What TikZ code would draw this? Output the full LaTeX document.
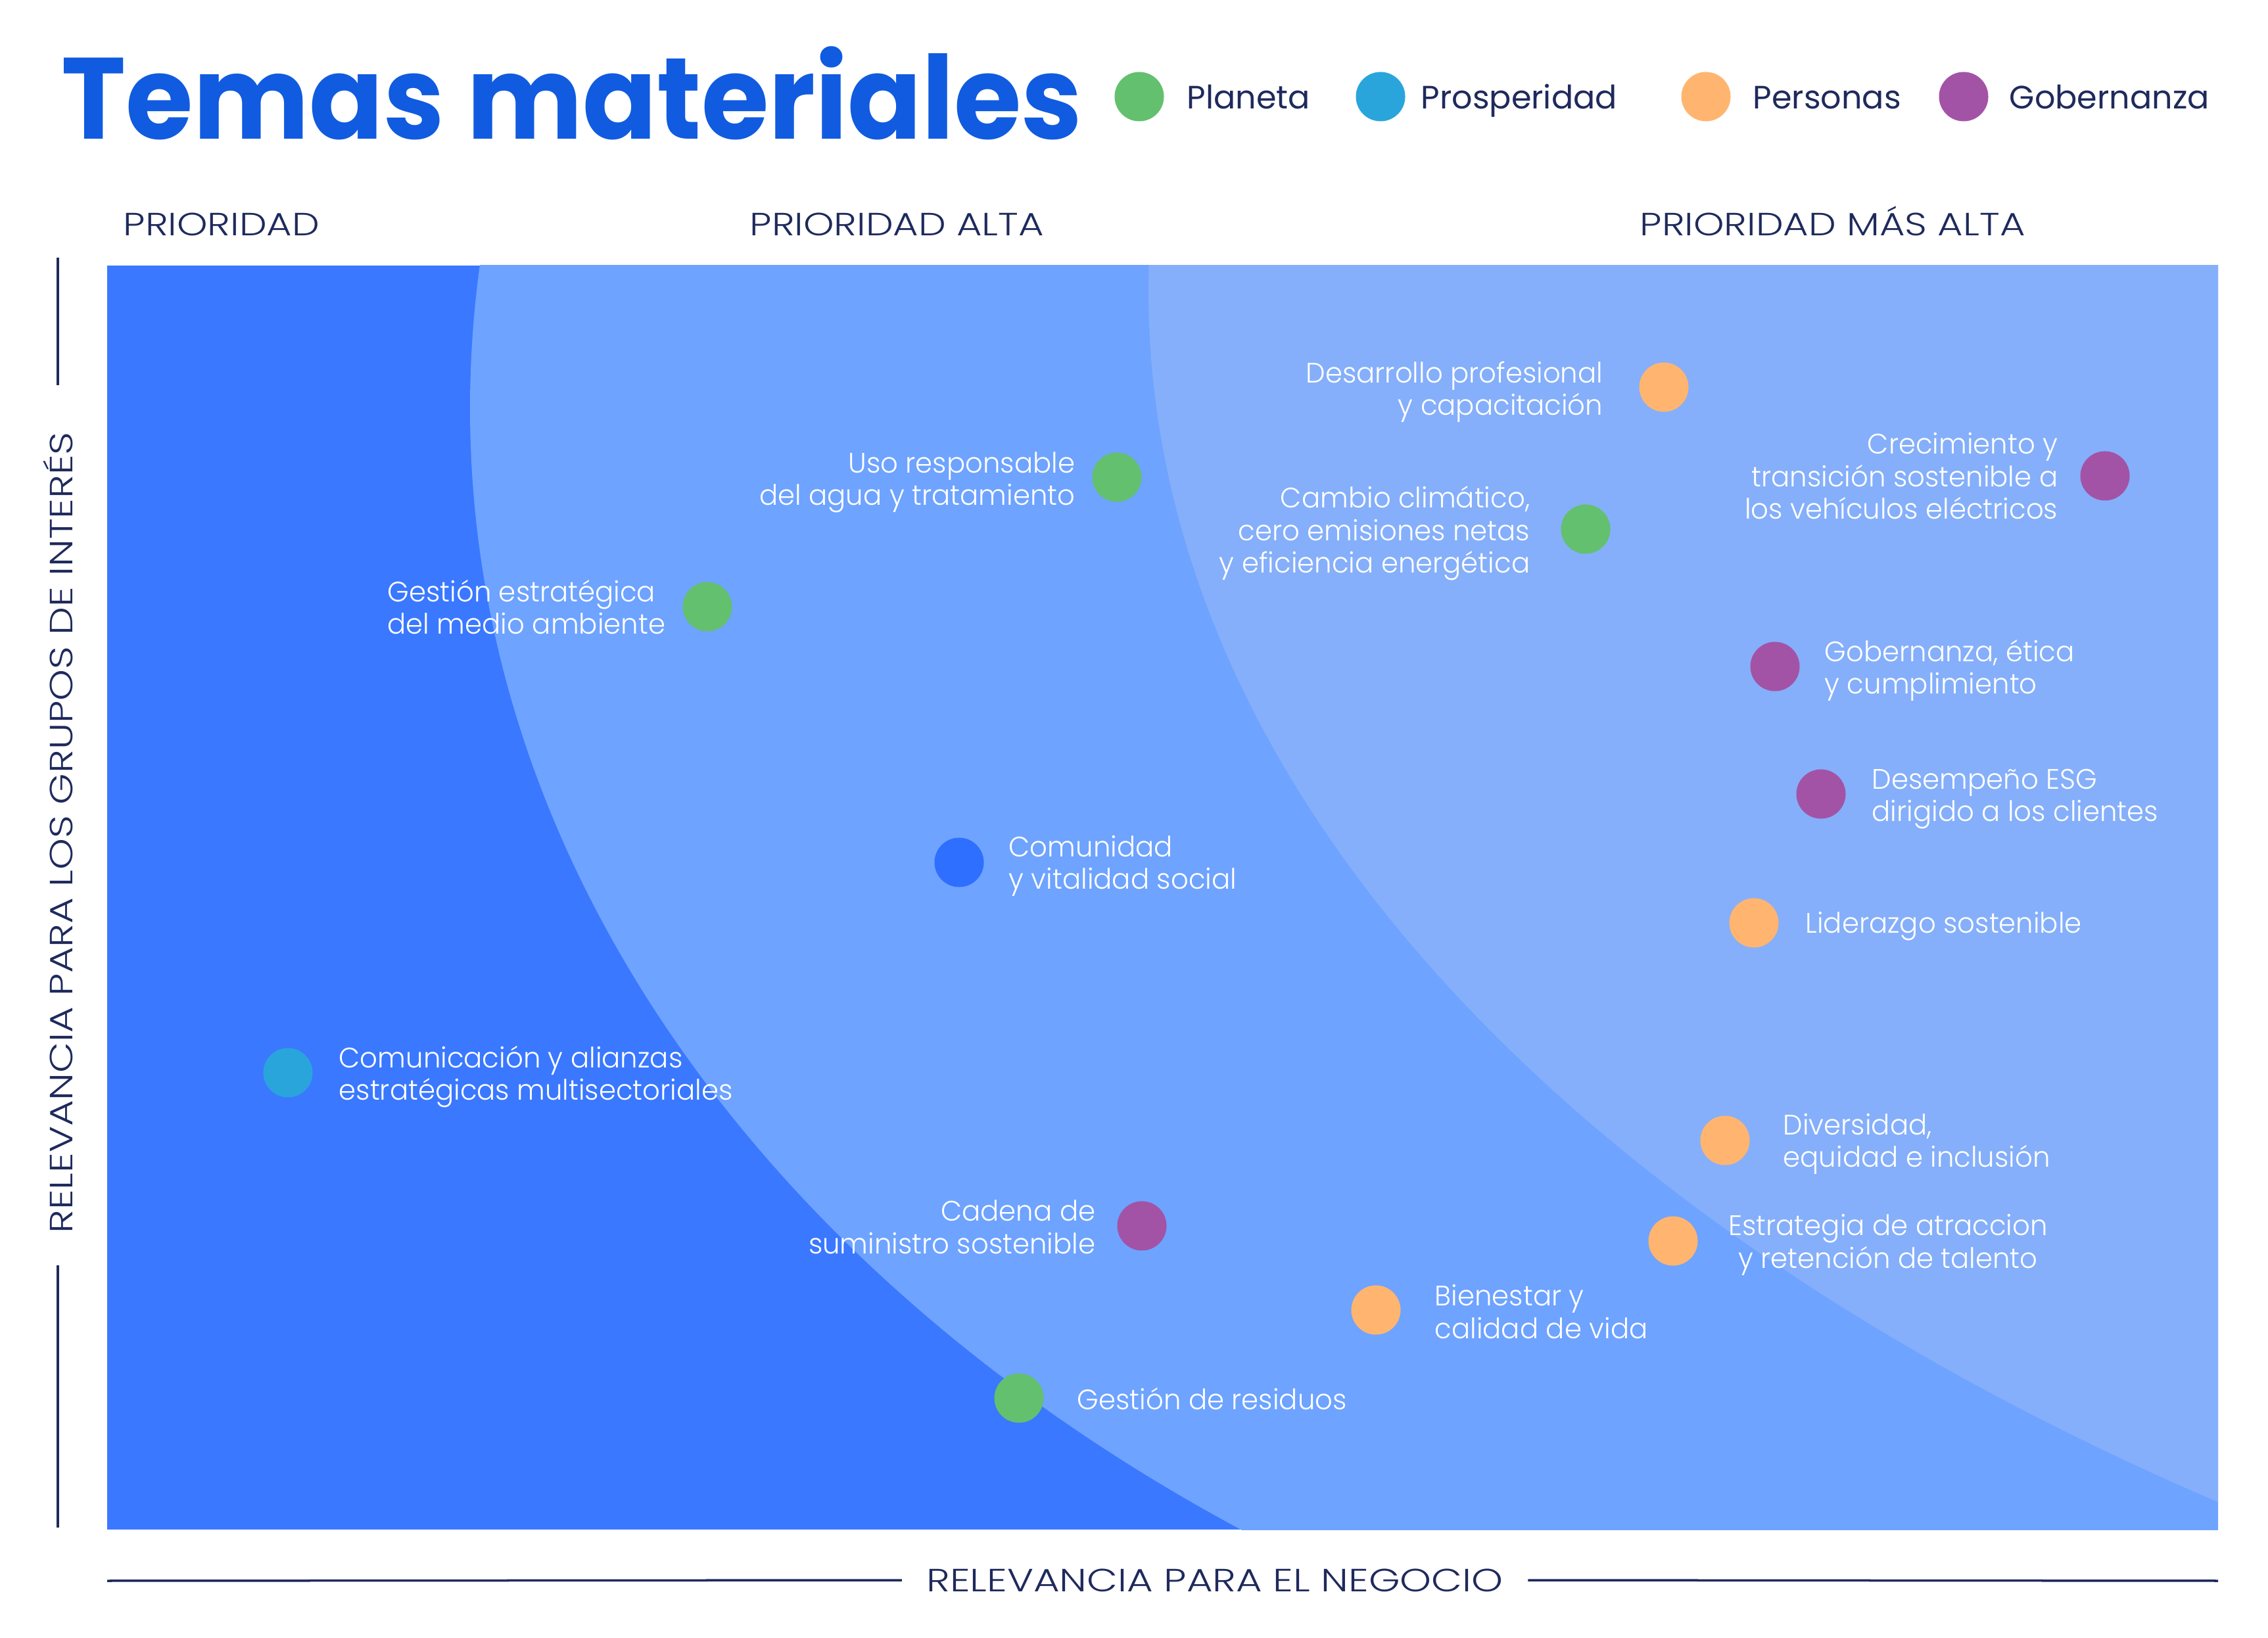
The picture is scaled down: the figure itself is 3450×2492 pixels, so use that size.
\documentclass[tikz,border=0pt]{standalone}
\usepackage{fontspec}
\setmainfont{Poppins}
\newfontfamily\titlefont[FakeStretch=0.945]{Poppins}
\newfontfamily\temafont[FakeStretch=0.975]{Poppins Light}
\newfontfamily\headfont[FakeStretch=1.21]{Poppins Light}
\newfontfamily\ejefont[FakeStretch=1.245]{Poppins Light}
\usetikzlibrary{positioning}
\definecolor{titleblue}{HTML}{105BE0}
\definecolor{navy}{HTML}{1F2A5C}
\definecolor{zonelow}{HTML}{3A78FF}
\definecolor{zonemid}{HTML}{6EA3FF}
\definecolor{zonehigh}{HTML}{85AFFA}
\definecolor{planeta}{HTML}{63C06E}
\definecolor{prosperidad}{HTML}{29A5DC}
\definecolor{personas}{HTML}{FFB570}
\definecolor{gobernanza}{HTML}{A353A6}
\definecolor{comunidad}{HTML}{2E6FFF}
\tikzset{
  dot/.style={circle,fill=#1,minimum size=0.75cm,inner sep=0pt},
  tema/.style={text=white,font=\temafont\fontsize{12.2}{14.1}\selectfont,inner sep=0pt},
  leyenda/.style={text=navy,font=\fontsize{14}{16}\selectfont,inner sep=0pt,anchor=base west},
  head/.style={text=navy,font=\headfont\fontsize{13.9}{16}\selectfont,inner sep=0pt,anchor=base west},
  ejetxt/.style={text=navy,font=\ejefont\fontsize{13.9}{16}\selectfont,inner sep=0pt},
  eje/.style={navy,line width=0.035cm}
}
\begin{document}
\begin{tikzpicture}[x=0.01cm,y=-0.01cm]
\useasboundingbox (0,0) rectangle (3450,2492);
\node[anchor=base west,inner sep=0pt,text=titleblue,font=\titlefont\fontsize{50}{50}\selectfont\bfseries] (titulo) at (93,212) {Temas materiales};
\node[dot=planeta] (lplaneta) at (1733,147) {};
\node[leyenda] (tplaneta) at (1805,166) {Planeta};
\node[dot=prosperidad] (lprosperidad) at (2100,147) {};
\node[leyenda] (tprosperidad) at (2161,166) {Prosperidad};
\node[dot=personas] (lpersonas) at (2595,147) {};
\node[leyenda] (tpersonas) at (2666,166) {Personas};
\node[dot=gobernanza] (lgobernanza) at (2987,147) {};
\node[leyenda] (tgobernanza) at (3056,166) {Gobernanza};
\node[head] (prio) at (187,359) {PRIORIDAD};
\node[head] (prioalta) at (1140,359) {PRIORIDAD ALTA};
\node[head] (priomax) at (2494,359) {PRIORIDAD MÁS ALTA};
\begin{scope}
\clip (163,404) rectangle (3374,2327);
\fill[zonelow] (163,404) rectangle (3374,2327);
\fill[zonemid] (3532,621) ellipse [x radius=2817,y radius=2101];
\fill[zonehigh] (5900,442) ellipse [x radius=4153,y radius=2322];
\end{scope}
\node[ejetxt,inner xsep=0.37cm] (negocio) at (1848,2404) {RELEVANCIA PARA EL NEGOCIO};
\coordinate (ejex0) at (163,2405);
\coordinate (ejex1) at (3374,2405);
\draw[eje] (ejex0) -- (negocio.west);
\draw[eje] (negocio.east) -- (ejex1);
\node[ejetxt,rotate=90] (grupos) at (88,1267) {RELEVANCIA PARA LOS GRUPOS DE INTERÉS};
\coordinate (ejey0) at (88,392);
\coordinate (ejey1) at (88,586);
\coordinate (ejey2) at (88,1925);
\coordinate (ejey3) at (88,2324);
\draw[eje] (ejey0) -- (ejey1);
\draw[eje] (ejey2) -- (ejey3);
\node[dot=personas] (desarrollo) at (2531,589) {};
\node[tema,anchor=base east,align=right] (tdesarrollo) at (2439,632) {Desarrollo profesional\\y capacitación};
\node[dot=planeta] (agua) at (1699,726) {};
\node[tema,anchor=base east,align=right] (tagua) at (1636,769) {Uso responsable\\del agua y tratamiento};
\node[dot=planeta] (clima) at (2412,805) {};
\node[tema,anchor=base east,align=right] (tclima) at (2328,872) {Cambio climático,\\cero emisiones netas\\y eficiencia energética};
\node[dot=gobernanza] (vehiculos) at (3202,724) {};
\node[tema,anchor=base east,align=right] (tvehiculos) at (3131,790) {Crecimiento y\\transición sostenible a\\los vehículos eléctricos};
\node[dot=planeta] (ambiente) at (1076,923) {};
\node[tema,anchor=base west,align=left] (tambiente) at (589,965) {Gestión estratégica\\del medio ambiente};
\node[dot=gobernanza] (etica) at (2700,1014) {};
\node[tema,anchor=base west,align=left] (tetica) at (2775,1056) {Gobernanza, ética\\y cumplimiento};
\node[dot=gobernanza] (esg) at (2770,1208) {};
\node[tema,anchor=base west,align=left] (tesg) at (2847,1250) {Desempeño ESG\\dirigido a los clientes};
\node[dot=comunidad] (social) at (1459,1312) {};
\node[tema,anchor=base west,align=left] (tsocial) at (1534,1353) {Comunidad\\y vitalidad social};
\node[dot=personas] (liderazgo) at (2668,1404) {};
\node[tema,anchor=base west] (tliderazgo) at (2746,1420) {Liderazgo sostenible};
\node[dot=prosperidad] (alianzas) at (438,1632) {};
\node[tema,anchor=base west,align=left] (talianzas) at (515,1674) {Comunicación y alianzas\\estratégicas multisectoriales};
\node[dot=personas] (diversidad) at (2624,1735) {};
\node[tema,anchor=base west,align=left] (tdiversidad) at (2712,1776) {Diversidad,\\equidad e inclusión};
\node[dot=gobernanza] (suministro) at (1737,1865) {};
\node[tema,anchor=base east,align=right] (tsuministro) at (1667,1907) {Cadena de\\suministro sostenible};
\node[dot=personas] (talento) at (2545,1888) {};
\node[tema,anchor=base,align=center] (ttalento) at (2872,1929) {Estrategia de atraccion\\y retención de talento};
\node[dot=personas] (bienestar) at (2093,1993) {};
\node[tema,anchor=base west,align=left] (tbienestar) at (2182,2036) {Bienestar y\\calidad de vida};
\node[dot=planeta] (residuos) at (1550,2127) {};
\node[tema,anchor=base west] (tresiduos) at (1638,2144) {Gestión de residuos};
\end{tikzpicture}
\end{document}
